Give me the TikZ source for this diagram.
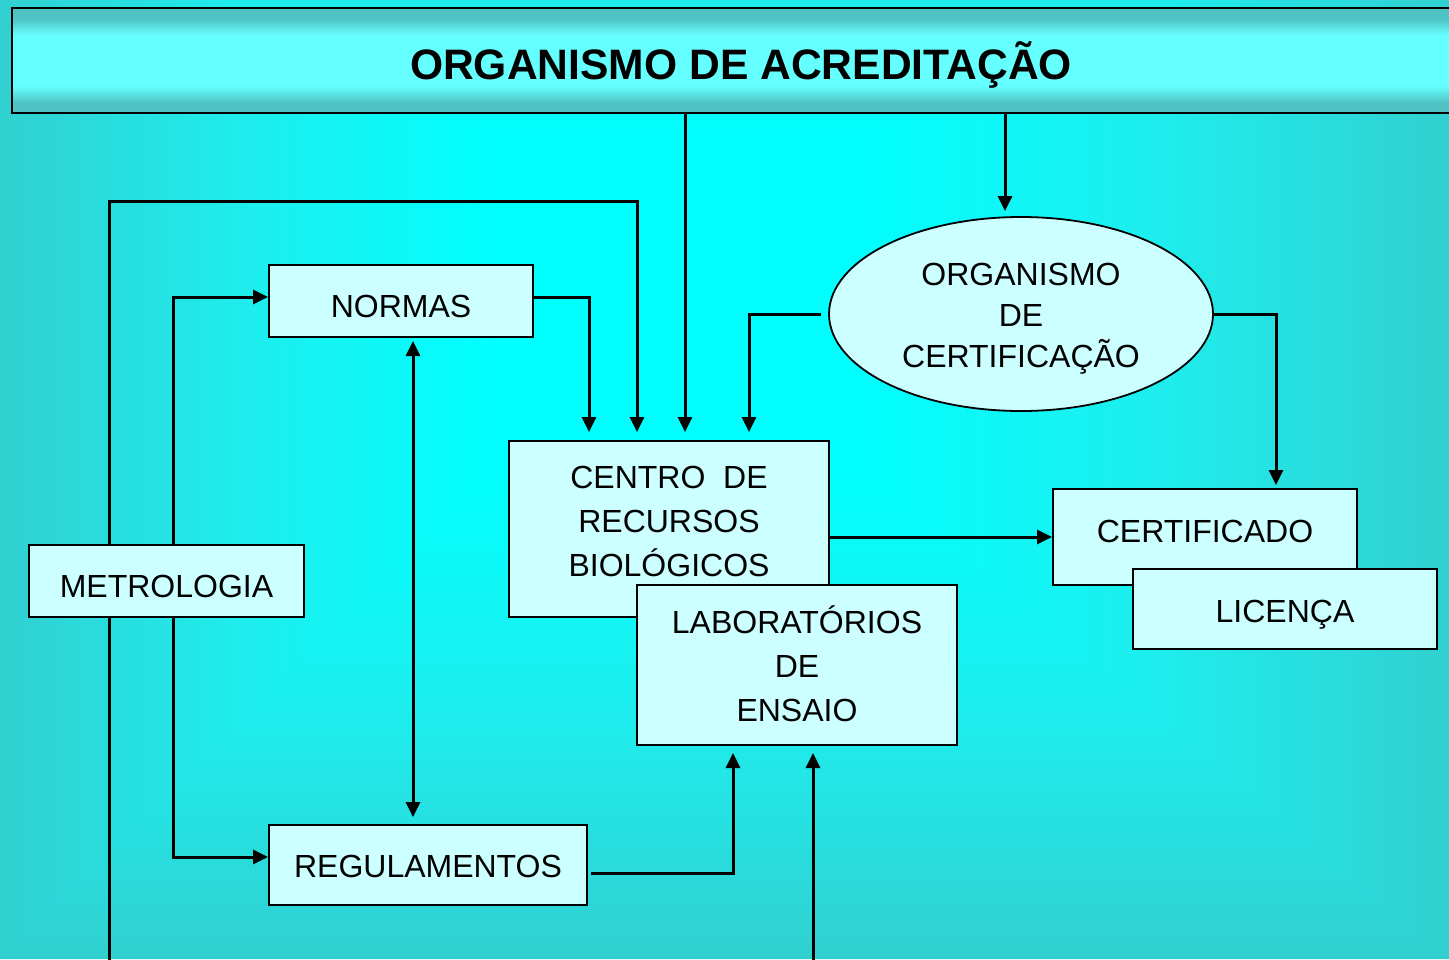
\documentclass[tikz,border=0pt]{standalone}
\usepackage{fontspec}
\setmainfont{Liberation Sans}
\usetikzlibrary{arrows.meta,shapes.geometric,calc}
\definecolor{bgedge}{HTML}{31D0D0}
\definecolor{bgmid}{HTML}{1EEEEE}
\definecolor{bgcenter}{HTML}{00FFFF}
\definecolor{boxfill}{HTML}{CCFFFF}
\definecolor{bandark}{HTML}{4FC3C3}
\definecolor{banbright}{HTML}{66FFFF}
\pgfdeclareverticalshading{bannershade}{100bp}{color(0bp)=(bandark); color(25bp)=(bandark); color(30bp)=(bandark); color(38bp)=(banbright); color(62bp)=(banbright); color(70bp)=(bandark); color(75bp)=(bandark); color(100bp)=(bandark)}
\pgfdeclarehorizontalshading{bgleft}{100bp}{color(0bp)=(bgedge); color(25bp)=(bgedge); color(50bp)=(bgmid); color(75bp)=(bgcenter); color(100bp)=(bgcenter)}
\pgfdeclarehorizontalshading{bgright}{100bp}{color(0bp)=(bgcenter); color(25bp)=(bgcenter); color(50bp)=(bgmid); color(75bp)=(bgedge); color(100bp)=(bgedge)}
\pgfdeclareverticalshading{bgtop}{100bp}{color(0bp)=(bgcenter); color(25bp)=(bgcenter); color(50bp)=(bgmid); color(75bp)=(bgedge); color(100bp)=(bgedge)}
\pgfdeclareverticalshading{bgbottom}{100bp}{color(0bp)=(bgedge); color(25bp)=(bgedge); color(50bp)=(bgmid); color(75bp)=(bgcenter); color(100bp)=(bgcenter)}
\newcommand{\txtshift}[2]{\raisebox{#1}[\height][\depth]{#2}}
\begin{document}
\begin{tikzpicture}[x=0.5pt,y=-0.5pt,
  box/.style={draw=black, line width=1pt, fill=boxfill, inner sep=0pt, font=\fontsize{16}{22}\selectfont},
  ovalbox/.style={ellipse, draw=black, line width=0.9pt, fill=boxfill, inner sep=0pt, font=\fontsize{16}{20.5}\selectfont},
  bannerbox/.style={draw=black, line width=1pt, shade, shading=bannershade, inner sep=0pt, font=\fontsize{21.3}{26}\selectfont\bfseries},
  conn/.style={line width=1.5pt, -{Triangle[length=7.5pt,width=7pt]}},
  conntwo/.style={line width=1.5pt, {Triangle[length=7.5pt,width=7pt]}-{Triangle[length=7.5pt,width=7pt]}},
  plainline/.style={line width=1.5pt}]
\useasboundingbox (0,0) rectangle (1449,959);
% background: rectangular gradient with a bright central region
\fill[bgmid] (0,0) rectangle (1449,959);
\shade[shading=bgleft] (0,-120) -- (500,140) -- (500,460) -- (0,959) -- cycle;
\shade[shading=bgright] (1449,-120) -- (850,140) -- (850,460) -- (1449,959) -- cycle;
\shade[shading=bgtop] (0,-120) -- (1449,-120) -- (850,140) -- (500,140) -- cycle;
\shade[shading=bgbottom] (500,460) -- (850,460) -- (1449,959) -- (0,959) -- cycle;
\fill[bgcenter] (500,140) rectangle (850,460);

% nodes
\node[bannerbox, minimum width=729pt, minimum height=52.5pt] (acred) at (741,60.5) {\txtshift{-2.25pt}{ORGANISMO DE ACREDITAÇÃO}};
\node[ovalbox, minimum width=192pt, minimum height=97pt] (orgcert) at (1021,314)
  {\txtshift{-2.1pt}{\begin{tabular}{@{}c@{}}ORGANISMO\\DE\\CERTIFICAÇÃO\end{tabular}}};
\node[box, minimum width=160pt, minimum height=88pt] (centro) at (669,529)
  {\txtshift{2.7pt}{\begin{tabular}{@{}c@{}}CENTRO\ \ DE\\RECURSOS\\BIOLÓGICOS\end{tabular}}};
\node[box, minimum width=160pt, minimum height=80pt] (lab) at (797,665)
  {\txtshift{-1.8pt}{\begin{tabular}{@{}c@{}}LABORATÓRIOS\\DE\\ENSAIO\end{tabular}}};
\node[box, minimum width=152pt, minimum height=48pt, text height=11.46pt, text depth=6pt] (cert) at (1205,537) {CERTIFICADO};
\node[box, minimum width=152pt, minimum height=40pt, text height=13.5pt, text depth=0pt] (lic) at (1285,609) {LICENÇA};
\node[box, minimum width=132pt, minimum height=36pt, text height=16.46pt, text depth=0pt] (normas) at (401,301) {NORMAS};
\node[box, minimum width=137.5pt, minimum height=36pt, text height=16.46pt, text depth=0pt] (metro) at (166.5,581) {METROLOGIA};
\node[box, minimum width=159pt, minimum height=40pt, text height=12.5pt, text depth=0pt] (regul) at (428,865) {REGULAMENTOS};

% helper coordinates
\coordinate (xa) at (685,0);
\coordinate (xb) at (1005,0);
\coordinate (xc) at (749,313);
\coordinate (xd) at (1276,313);
\coordinate (xe) at (589,297);
\coordinate (xf) at (637,201);
\coordinate (xg) at (173,297);
\coordinate (xh) at (173,857);
\coordinate (xi) at (413,0);
\coordinate (xj) at (733,873);
\coordinate (botA) at (109,965);
\coordinate (botB) at (813,965);

% connectors
\draw[conn, shorten >=4pt] (acred.south -| xa) -- (centro.north -| xa);
\draw[conn, shorten >=2.5pt] (acred.south -| xb) -- (orgcert.north -| xb);
\draw[conn, shorten >=4pt] ([xshift=-3.5pt]orgcert.west) -| (centro.north -| xc);
\draw[conn, shorten >=1.5pt] (orgcert.east) -| (cert.north -| xd);
\draw[conn] (centro.east |- cert.west) -- (cert.west);
\draw[conn, shorten >=4pt] (normas.east |- xe) -| (centro.north -| xe);
\draw[plainline] (botA) -- (metro.south -| botA);
\draw[conn, shorten >=4pt] (metro.north -| botA) |- (xf) -- (centro.north -| xf);
\draw[conn] (metro.north -| xg) |- (normas.west |- xg);
\draw[conn] (metro.south -| xh) |- (regul.west |- xh);
\draw[conntwo, shorten <=1.5pt, shorten >=3.5pt] (normas.south -| xi) -- (regul.north -| xi);
\draw[conn, shorten >=3.5pt] ([xshift=1.5pt]regul.east |- xj) -| (lab.south -| xj);
\draw[conn, shorten >=3.5pt] (botB) -- (lab.south -| botB);
\end{tikzpicture}
\end{document}
